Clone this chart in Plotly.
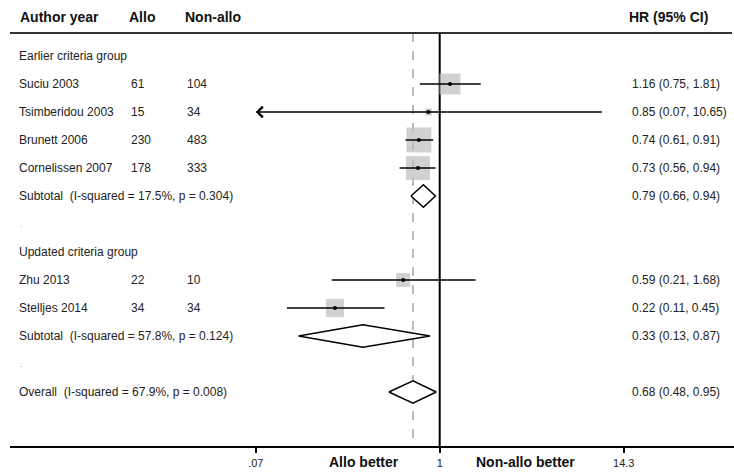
import math
import plotly.graph_objects as go

# ---------------- data ----------------
group_labels = ["Earlier criteria group", "Updated criteria group"]
group_rows = [0, 7]

study_names = ["Suciu 2003", "Tsimberidou 2003", "Brunett 2006", "Cornelissen 2007",
               "Zhu 2013", "Stelljes 2014"]
study_rows = [1, 2, 3, 4, 8, 9]
allo_n = [61, 15, 230, 178, 22, 34]
nonallo_n = [104, 34, 483, 333, 10, 34]
study_hr = [1.16, 0.85, 0.74, 0.73, 0.59, 0.22]
study_lo = [0.75, 0.07, 0.61, 0.56, 0.21, 0.11]
study_hi = [1.81, 10.65, 0.91, 0.94, 1.68, 0.45]

pooled_labels = ["Subtotal  (I-squared = 17.5%, p = 0.304)",
                 "Subtotal  (I-squared = 57.8%, p = 0.124)",
                 "Overall  (I-squared = 67.9%, p = 0.008)"]
pooled_rows = [5, 10, 12]
pooled_hr = [0.79, 0.33, 0.68]
pooled_lo = [0.66, 0.13, 0.48]
pooled_hi = [0.94, 0.87, 0.95]

spacer_rows = [6, 11]

tick_vals = [0.07, 1, 14.3]
tick_text = [".07", "1", "14.3"]
axis_min = 0.07
null_value = 1

# ---------------- styles ----------------
box_px = [21, 7, 25, 24, 14, 18]
BODY = dict(family="Liberation Sans, Arial, sans-serif", size=12, color="#222222")
BOLD = dict(family="Liberation Sans, Arial, sans-serif", size=14, color="#111111")
W, H = 734, 472
ML = 10
PW = W - ML

def px2paper(px):
    return (px - ML) / PW

def row_of(py):
    return (py - 56) / 28.0

x_lo_log = -(439.7 - ML) / 159.3
x_hi_log = (W - 439.7) / 159.3

fig = go.Figure()

# Weight boxes
fig.add_trace(go.Scatter(x=study_hr, y=study_rows, mode="markers",
                         marker=dict(symbol="square", size=box_px, color="#BEBEBE",
                                     line=dict(width=0)),
                         hoverinfo="skip", showlegend=False))

# CI lines (non-truncated)
for i in range(len(study_names)):
    if study_lo[i] <= axis_min:
        continue
    fig.add_trace(go.Scatter(x=[study_lo[i], study_hi[i]], y=[study_rows[i]] * 2,
                             mode="lines", line=dict(color="black", width=1.5),
                             hoverinfo="skip", showlegend=False))

# truncated CI drawn with arrow
for i in range(len(study_names)):
    if study_lo[i] <= axis_min:
        fig.add_annotation(x=math.log10(axis_min), y=study_rows[i],
                           ax=math.log10(study_hi[i]), ay=study_rows[i],
                           xref="x", yref="y", axref="x", ayref="y",
                           text="", showarrow=True, arrowhead=4, arrowsize=1.4,
                           arrowwidth=1.5, arrowcolor="black", standoff=0, startstandoff=0)

# point estimate dots
fig.add_trace(go.Scatter(x=study_hr, y=study_rows, mode="markers",
                         marker=dict(symbol="circle", size=4, color="black"),
                         hoverinfo="skip", showlegend=False))

# diamonds
for i in range(len(pooled_labels)):
    r = pooled_rows[i]
    fig.add_trace(go.Scatter(
        x=[pooled_lo[i], pooled_hr[i], pooled_hi[i], pooled_hr[i], pooled_lo[i]],
        y=[r, r - 0.4, r, r + 0.4, r],
        mode="lines", fill="toself", fillcolor="white",
        line=dict(color="black", width=1.5), hoverinfo="skip", showlegend=False))

shapes = []
# top rule
shapes.append(dict(type="line", xref="paper", yref="y", x0=0, x1=px2paper(732),
                   y0=row_of(33), y1=row_of(33), line=dict(color="#333333", width=2)))
# overall dashed line
shapes.append(dict(type="line", xref="x", yref="y", layer="below",
                   x0=pooled_hr[-1], x1=pooled_hr[-1],
                   y0=row_of(33), y1=row_of(447),
                   line=dict(color="#8C8C8C", width=1.2, dash="dash")))
# null line
shapes.append(dict(type="line", xref="x", yref="y", layer="below",
                   x0=null_value, x1=null_value,
                   y0=row_of(33), y1=row_of(447), line=dict(color="black", width=2)))
fig.update_layout(shapes=shapes)

ann = []
def txt(x_px, row, s, font=BODY, anchor="left"):
    ann.append(dict(x=px2paper(x_px), y=row, xref="paper", yref="y", text=s,
                    showarrow=False, xanchor=anchor, yanchor="middle", font=font))

hdr_row = row_of(17)
txt(18, hdr_row, "<b>Author year</b>", BOLD)
txt(127, hdr_row, "<b>Allo</b>", BOLD)
txt(183, hdr_row, "<b>Non-allo</b>", BOLD)
txt(627, hdr_row, "<b>HR (95% CI)</b>", BOLD)

for g, r in zip(group_labels, group_rows):
    txt(17, r, g)
for i in range(len(study_names)):
    txt(17, study_rows[i], study_names[i])
    txt(129, study_rows[i], str(allo_n[i]))
    txt(185, study_rows[i], str(nonallo_n[i]))
    txt(630, study_rows[i], f"{study_hr[i]:.2f} ({study_lo[i]:.2f}, {study_hi[i]:.2f})")
for i in range(len(pooled_labels)):
    txt(17, pooled_rows[i], pooled_labels[i])
    txt(630, pooled_rows[i], f"{pooled_hr[i]:.2f} ({pooled_lo[i]:.2f}, {pooled_hi[i]:.2f})")
for r in spacer_rows:
    ann.append(dict(x=px2paper(18), y=r, xref="paper", yref="y", text=".",
                    showarrow=False, xanchor="left", yanchor="middle",
                    font=dict(family="Liberation Sans, Arial", size=8, color="#888888")))

txt(364, row_of(462), "<b>Allo better</b>", BOLD, "center")
txt(525, row_of(462), "<b>Non-allo better</b>", BOLD, "center")

for a in ann:
    fig.add_annotation(**a)

fig.update_layout(
    width=W, height=H,
    margin=dict(l=ML, r=0, t=0, b=0, autoexpand=False),
    paper_bgcolor="white", plot_bgcolor="white",
    xaxis=dict(type="log", range=[x_lo_log, x_hi_log], showgrid=False, zeroline=False,
               tickvals=tick_vals, ticktext=tick_text, ticks="outside", ticklen=5,
               tickwidth=1.5, tickcolor="black", automargin=False,
               showline=True, linecolor="black", linewidth=2,
               anchor="free", position=1 - 447 / H, ticklabelstandoff=1,
               tickfont=dict(family="Liberation Sans, Arial", size=11, color="#222222")),
    yaxis=dict(range=[row_of(H), row_of(0)], showgrid=False, zeroline=False,
               showticklabels=False, showline=False, ticks="", automargin=False),
    showlegend=False,
)

fig.write_html("out.html")
